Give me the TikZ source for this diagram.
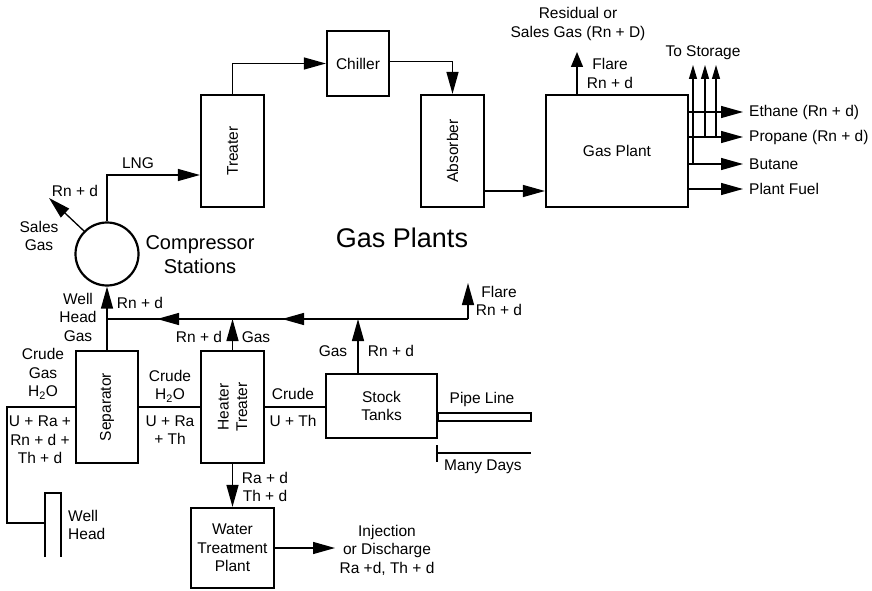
\documentclass[tikz,border=0pt]{standalone}
\usepackage{fontspec}
\setmainfont{Liberation Sans}
\usetikzlibrary{arrows.meta,decorations.markings,calc}
\begin{document}
\begin{tikzpicture}[x=1pt,y=-1pt,
  box/.style={draw, line width=2.2pt, inner sep=0pt},
  line/.style={line width=1.3pt},
  flow/.style={line, -{Triangle[length=22pt,width=12pt]}},
  sflow/.style={line, -{Triangle[length=14pt,width=8pt]}},
  lbl/.style={inner sep=0pt, align=center, font=\fontsize{15.5}{18.5}\selectfont},
  midarrows/.style={postaction={decorate}, decoration={markings,
     mark=at position 186pt with {\arrow{Triangle[length=22pt,width=12pt]}},
     mark=at position 311pt with {\arrow{Triangle[length=22pt,width=12pt]}}}}
  ]
\useasboundingbox (0,0) rectangle (872,591);

% ---------- Gas plant section ----------
\node[box, minimum width=63pt, minimum height=112pt] (treater) at (232.5,151) {};
\node[lbl, rotate=90] at (treater) {Treater};
\node[box, minimum width=62pt, minimum height=65pt] (chiller) at (358,63.5) {};
\node[lbl] at (chiller) {Chiller};
\node[box, minimum width=63pt, minimum height=112pt] (absorber) at (452.5,151) {};
\node[lbl, rotate=90] at (absorber) {Absorber};
\node[box, minimum width=142pt, minimum height=112pt] (gp) at (617,151) {};
\node[lbl] at (gp) {Gas Plant};

\node[circle, draw, line width=2.2pt, minimum size=63pt, inner sep=0pt] (comp) at (107,254) {};
\node[lbl, font=\fontsize{20}{24}\selectfont] at (200,255) {Compressor\\Stations};
\node[lbl, font=\fontsize{27}{30}\selectfont] at (402,238) {Gas Plants};

\draw[flow] (comp.north) |- ([yshift=-24pt]treater.west);
\node[lbl] at (138,163) {LNG};
\coordinate (salesT) at (49,198);
\draw[flow] (comp.135) -- (salesT);
\node[lbl] at (75,191) {Rn + d};
\node[lbl] at (39,236) {Sales\\Gas};

\draw[flow] (treater.north) |- (chiller.west);
\draw[flow] ([yshift=2pt]chiller.east) -| (absorber.north);
\draw[flow] ([yshift=-40pt]absorber.east) -- ([yshift=-40pt]gp.west);

\coordinate (residT) at (577,52);
\draw[line, -{Triangle[length=15pt,width=12pt]}] (residT |- gp.north) -- (residT);
\node[lbl] at (578,24) {Residual or\\Sales Gas (Rn + D)};
\node[lbl] at (610,73.5) {Flare\\Rn + d};

\coordinate (ethT) at (743,112);
\coordinate (proT) at (743,137);
\coordinate (butT) at (743,164);
\coordinate (fuelT) at (743,189);
\draw[flow] (gp.east |- ethT) -- (ethT);
\draw[flow] (gp.east |- proT) -- (proT);
\draw[flow] (gp.east |- butT) -- (butT);
\draw[flow] (gp.east |- fuelT) -- (fuelT);
\node[lbl, anchor=west] at ([xshift=6pt]ethT) {Ethane (Rn + d)};
\node[lbl, anchor=west] at ([xshift=6pt]proT) {Propane (Rn + d)};
\node[lbl, anchor=west] at ([xshift=6pt]butT) {Butane};
\node[lbl, anchor=west] at ([xshift=6pt]fuelT) {Plant Fuel};

\coordinate (st1) at (693,65);
\coordinate (st2) at (705,65);
\coordinate (st3) at (716,65);
\draw[sflow] (st1 |- butT) -- (st1);
\draw[sflow] (st2 |- proT) -- (st2);
\draw[sflow] (st3 |- proT) -- (st3);
\node[lbl] at (703,53) {To Storage};

% ---------- Field section ----------
\node[box, minimum width=62pt, minimum height=112pt] (sep) at (107,407) {};
\node[lbl, rotate=90] at (sep) {Separator};
\node[box, minimum width=63pt, minimum height=112pt] (heater) at (232.5,407) {};
\node[lbl, rotate=90] at (heater) {Heater\\Treater};
\node[box, minimum width=111pt, minimum height=64pt] (stock) at (381.5,406) {};
\node[lbl] at (stock) {Stock\\Tanks};
\node[box, minimum width=83pt, minimum height=80pt] (water) at (232.5,548) {};
\node[lbl] at (water) {Water\\Treatment\\Plant};

% gas collection
\coordinate (j1) at (107,319);
\coordinate (corner) at (468,319);
\coordinate (flareT) at (468,283);
\draw[flow] (sep.north) -- (comp.south);
\draw[line, midarrows] (corner) -- (j1);
\draw[flow] (corner) -- (flareT);
\node[lbl] at (499,301) {Flare\\Rn + d};
\draw[flow] (heater.north) -- (heater.north |- j1);
\draw[flow] ([xshift=-23.5pt]stock.north) -- ([xshift=-23.5pt]stock.north |- j1);
\node[lbl] at (78,317) {Well\\Head\\Gas};
\node[lbl] at (140,303) {Rn + d};
\node[lbl] at (199,337) {Rn + d};
\node[lbl] at (256,337) {Gas};
\node[lbl] at (333,351) {Gas};
\node[lbl] at (391,351) {Rn + d};

% crude line
\coordinate (c1) at (7,523);
\coordinate (wl) at (45,523);
\draw[line] (sep.west) -| (c1) -- (wl);
\draw[line width=2.2pt] (45,557) -- (45,493) -- (61,493) -- (61,557);
\node[lbl, align=left, anchor=west] at (68,525) {Well\\Head};
\node[lbl] at (43,374) {Crude\\Gas\\H\textsubscript{2}O};
\node[lbl] at (40,440) {U + Ra +\\Rn + d +\\Th + d};

\draw[line] (sep.east) -- (heater.west);
\node[lbl] at (170,386) {Crude\\H\textsubscript{2}O};
\node[lbl] at (170,430) {U + Ra\\+ Th};

\draw[line] (heater.east) -- (heater.east -| stock.west);
\node[lbl] at (293,394) {Crude};
\node[lbl] at (293,421) {U + Th};

\draw[flow] (heater.south) -- (water.north);
\node[lbl] at (265,487) {Ra + d\\Th + d};

\coordinate (injT) at (335,548);
\draw[flow] (water.east) -- (injT);
\node[lbl] at (387,550) {Injection\\or Discharge\\Ra +d, Th + d};

% pipe line
\draw[line width=1.2pt] (stock.east |- 0,413) rectangle (531,421);
\node[lbl] at (482,399) {Pipe Line};
\draw[line width=1.2pt] (437,453) -- (531,453);
\draw[line width=1.2pt] (437,445) -- (437,462);
\node[lbl] at (483,467) {Many Days};
\end{tikzpicture}
\end{document}
